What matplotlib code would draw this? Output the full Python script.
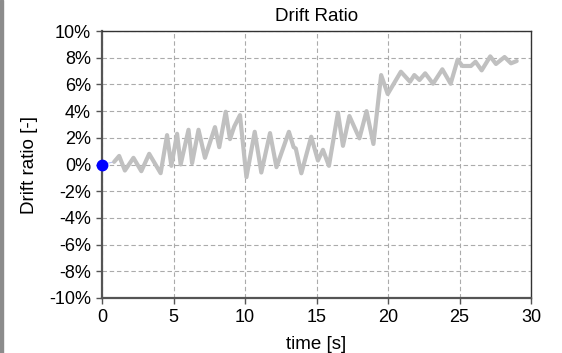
import matplotlib
matplotlib.use("Agg")
import matplotlib.pyplot as plt
from matplotlib.patches import Rectangle
from matplotlib.ticker import FuncFormatter

# data (time in s, drift ratio in %)
time_s = [0.85, 1.2, 1.6, 2.2, 2.75, 3.3, 4.1, 4.55, 4.85, 5.25, 5.5, 6.05, 6.3,
          6.75, 7.2, 7.9, 8.2, 8.65, 8.95, 9.25, 9.65, 10.1, 10.68, 11.14, 11.75,
          12.2, 13.07, 13.4, 13.55, 13.94, 14.63, 15.1, 15.45, 15.87, 16.5, 16.85,
          17.3, 18.0, 18.5, 18.98, 19.52, 19.98, 20.9, 21.54, 21.84, 22.2, 22.6,
          23.15, 23.8, 24.38, 24.87, 25.2, 25.8, 26.12, 26.55, 27.15, 27.55,
          28.15, 28.6, 29.0]
drift_pct = [0.2, 0.64, -0.45, 0.5, -0.5, 0.8, -0.65, 2.2, -0.1, 2.3, 0.0, 2.6, 0.1,
             2.6, 0.5, 2.8, 1.3, 3.95, 1.9, 2.85, 3.7, -0.95, 2.45, -0.6, 2.35,
             -0.2, 2.45, 1.3, 1.2, -0.66, 2.08, 0.3, 1.1, -0.1, 3.88, 1.4,
             3.63, 1.96, 4.0, 1.54, 6.7, 5.28, 6.95, 6.2, 6.7, 6.33, 6.83,
             6.05, 7.13, 6.05, 7.85, 7.38, 7.38, 7.7, 7.05, 8.1, 7.53,
             8.05, 7.58, 7.75]
lead_t = [0.0, 0.85]
lead_v = [0.0, 0.2]
marker_t = [0.0]
marker_v = [0.0]
xticks = [0, 5, 10, 15, 20, 25, 30]
yticks = [-10, -8, -6, -4, -2, 0, 2, 4, 6, 8, 10]

plt.rcParams['font.family'] = ['Liberation Sans', 'DejaVu Sans']

fig = plt.figure(figsize=(5.62, 3.53), dpi=100)
fig.patches.append(Rectangle((0, 0), 3 / 562, 1, transform=fig.transFigure,
                             color='#8c8c8c', zorder=0))
ax = fig.add_axes([102 / 562, 1 - 298 / 353, (531 - 102) / 562, (298 - 31) / 353])

ax.plot(lead_t, lead_v, color='#b8c0f0', lw=0.8, zorder=2)
ax.plot(time_s, drift_pct, color='#c0c0c0', lw=3.0, solid_joinstyle='round',
        solid_capstyle='round', zorder=3)
ax.plot(marker_t, marker_v, 'o', color='#0000ff', ms=7.5, zorder=4, clip_on=False)

ax.set_xlim(0, 30)
ax.set_ylim(-10, 10)
ax.set_xticks(xticks)
ax.set_yticks(yticks)
ax.yaxis.set_major_formatter(FuncFormatter(lambda v, p: f"{int(round(v))}%"))
ax.tick_params(labelsize=13, length=4, width=1, color='#555555', pad=4,
               top=False, right=False)
ax.grid(True, ls=(0, (4, 2.5)), color='#ababab', lw=0.8)
for s in ['left', 'bottom']:
    ax.spines[s].set_linewidth(1.6)
    ax.spines[s].set_color('#555555')
for s in ['top', 'right']:
    ax.spines[s].set_linewidth(1.0)
    ax.spines[s].set_color('#333333')

ax.set_title('Drift Ratio', fontsize=13.5, pad=7.5)
ax.set_xlabel('time [s]', fontsize=13.5, labelpad=7)
ax.set_ylabel('Drift ratio [-]', fontsize=13.5, labelpad=8)

fig.savefig('out.png', dpi=100)
